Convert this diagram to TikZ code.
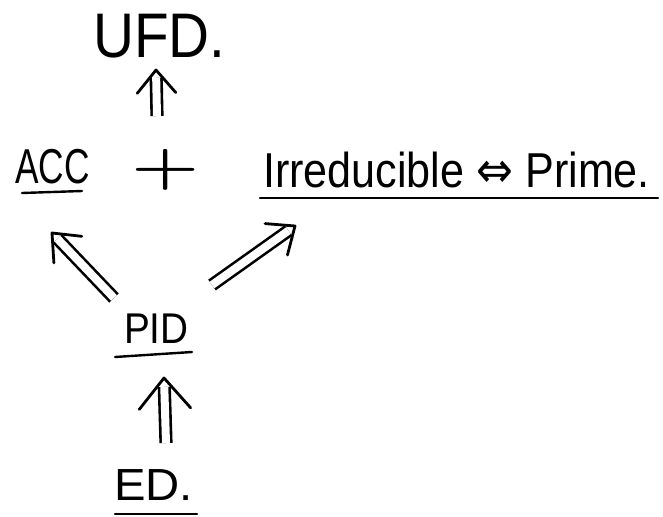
\documentclass[tikz,border=0pt]{standalone}
\usepackage{fontspec}
\setmainfont{Liberation Sans}
\newfontfamily\symfont{DejaVu Sans}
\newfontfamily\lmfont{Latin Modern Roman}
\usetikzlibrary{calc}
\newcommand\implarrow[4]{%
  \draw[shaft, shorten >=#4] (#1) -- (#2);
  \draw[headline] ($(#2)!#3!40:(#1)$) -- (#2) -- ($(#2)!#3!-40:(#1)$);}
\begin{document}
\begin{tikzpicture}[x=1pt,y=-1pt,
  lbl/.style={inner sep=0pt, anchor=base west, text=black},
  ul/.style={line width=2.4pt, line cap=round},
  shaft/.style={double, double distance=8pt, line width=2.6pt, line cap=butt},
  headline/.style={line width=2.8pt, line cap=round, line join=round}]
\useasboundingbox (0,0) rectangle (663,516);
\node[lbl, font=\fontsize{63}{65}\selectfont, xscale=0.9] (ufd) at (93,58) {UFD.};
\node[lbl, font=\fontsize{49}{51}\selectfont, xscale=0.72] (acc) at (15,183) {ACC};
\node[inner sep=0pt, font=\lmfont\bfseries\fontsize{78}{80}\selectfont, yscale=0.7] (plus) at (166,170) {+};
\node[lbl, font=\fontsize{49}{51}\selectfont, xscale=0.88] (irr) at (263,187) {Irreducible {\symfont\fontsize{50}{52}\selectfont ⇔} Prime.};
\node[lbl, font=\fontsize{43}{45}\selectfont, xscale=0.9] (pid) at (124,343) {PID};
\node[lbl, font=\fontsize{45}{47}\selectfont, xscale=1.05] (ed) at (114,500) {ED.};
\coordinate (accul1) at (22,193); \coordinate (accul2) at (82,191);
\coordinate (irrul1) at (260,198); \coordinate (irrul2) at (658,198);
\coordinate (pidul1) at (115,357); \coordinate (pidul2) at (192,352);
\coordinate (edul1) at (115,514); \coordinate (edul2) at (197,514);
\draw[ul] (accul1) -- (accul2);
\draw[ul] (irrul1) -- (irrul2);
\draw[ul] (pidul1) -- (pidul2);
\draw[ul] (edul1) -- (edul2);
\coordinate (a1s) at (157,116); \coordinate (a1e) at (156,70);
\implarrow{a1s}{a1e}{30pt}{8pt}
\coordinate (a2s) at (114,298); \coordinate (a2e) at (52,233);
\implarrow{a2s}{a2e}{30pt}{8pt}
\coordinate (a3s) at (212,285); \coordinate (a3e) at (295,226);
\implarrow{a3s}{a3e}{30pt}{8pt}
\coordinate (a4s) at (166,443); \coordinate (a4e) at (164,378);
\implarrow{a4s}{a4e}{40pt}{9pt}
\end{tikzpicture}
\end{document}
